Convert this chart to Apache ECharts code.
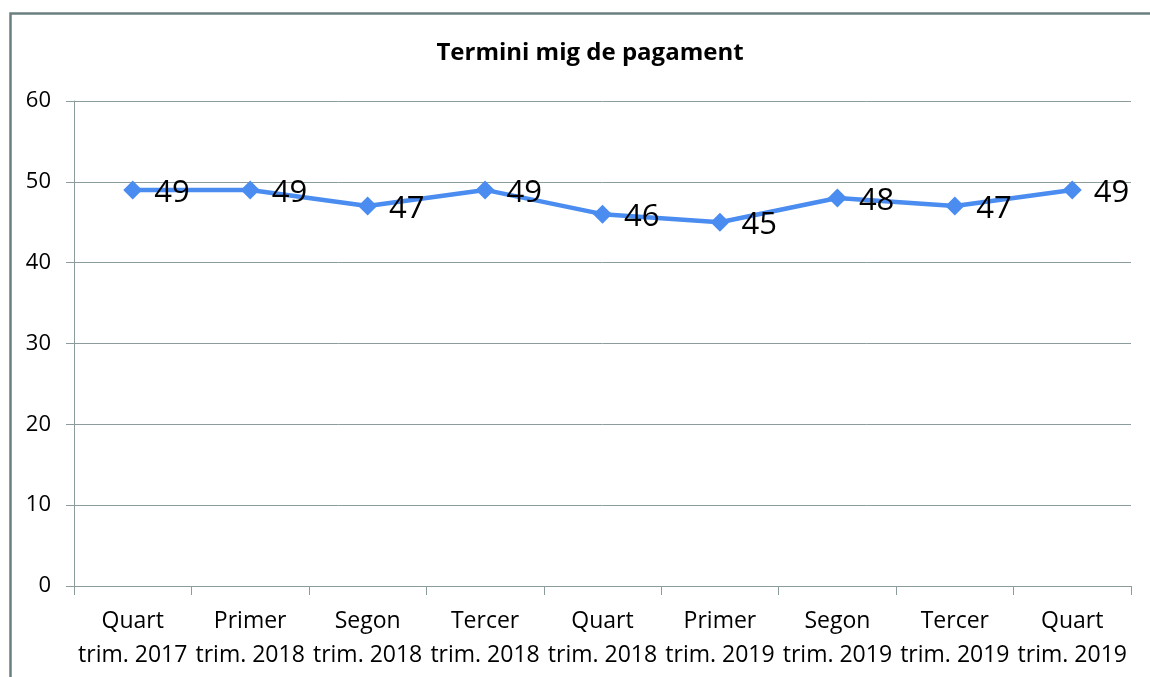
<!DOCTYPE html>
<html>
<head>
<meta charset="utf-8">
<script src="https://cdn.jsdelivr.net/npm/echarts@6/dist/echarts.min.js"></script>
<style>
html,body{margin:0;padding:0;background:#fff;}
#main{width:1150px;height:677px;}
</style>
</head>
<body>
<div id="main"></div>
<script>
// dades
var trimestres = ['Quart\ntrim. 2017', 'Primer\ntrim. 2018', 'Segon\ntrim. 2018', 'Tercer\ntrim. 2018',
    'Quart\ntrim. 2018', 'Primer\ntrim. 2019', 'Segon\ntrim. 2019', 'Tercer\ntrim. 2019', 'Quart\ntrim. 2019'];
var dies = [49, 49, 47, 49, 46, 45, 48, 47, 49];
var eixY = [0, 10, 20, 30, 40, 50, 60];

var colorEix = '#8a9c9c';
var chart = echarts.init(document.getElementById('main'));
chart.setOption({
    animation: false,
    backgroundColor: '#fff',
    title: {
        text: 'Termini mig de pagament',
        left: 585, top: 36, textAlign: 'center',
        textStyle: {fontFamily: 'Open Sans', fontWeight: 'bold', fontSize: 24, color: '#000'}
    },
    graphic: [{
        type: 'rect', left: 8, top: 11, silent: true,
        shape: {width: 1160, height: 690},
        style: {fill: 'none', stroke: '#6b7f80', lineWidth: 2.5}
    }],
    grid: {left: 74, right: 19, top: 101, bottom: 91},
    xAxis: {
        type: 'category',
        data: trimestres,
        boundaryGap: true,
        axisLine: {lineStyle: {color: colorEix, width: 1}},
        axisTick: {show: true, length: 9, lineStyle: {color: colorEix}},
        axisLabel: {color: '#000', fontFamily: 'Open Sans', fontSize: 23, lineHeight: 34, margin: 18, interval: 0}
    },
    yAxis: {
        type: 'value',
        min: eixY[0], max: eixY[eixY.length - 1], interval: 10,
        axisLine: {show: true, lineStyle: {color: colorEix}},
        axisTick: {show: true, length: 8, lineStyle: {color: colorEix}},
        splitLine: {lineStyle: {color: colorEix}},
        axisLabel: {color: '#000', fontFamily: 'Open Sans', fontSize: 22, margin: 23}
    },
    series: [{
        type: 'line',
        data: dies,
        symbol: 'diamond',
        symbolSize: 19,
        lineStyle: {color: '#4a8cf0', width: 4.5},
        itemStyle: {color: '#4a8cf0'},
        label: {
            show: true, position: 'right', distance: 12, offset: [0, 3],
            color: '#000', fontFamily: 'Open Sans', fontSize: 31
        }
    }]
});
</script>
</body>
</html>
